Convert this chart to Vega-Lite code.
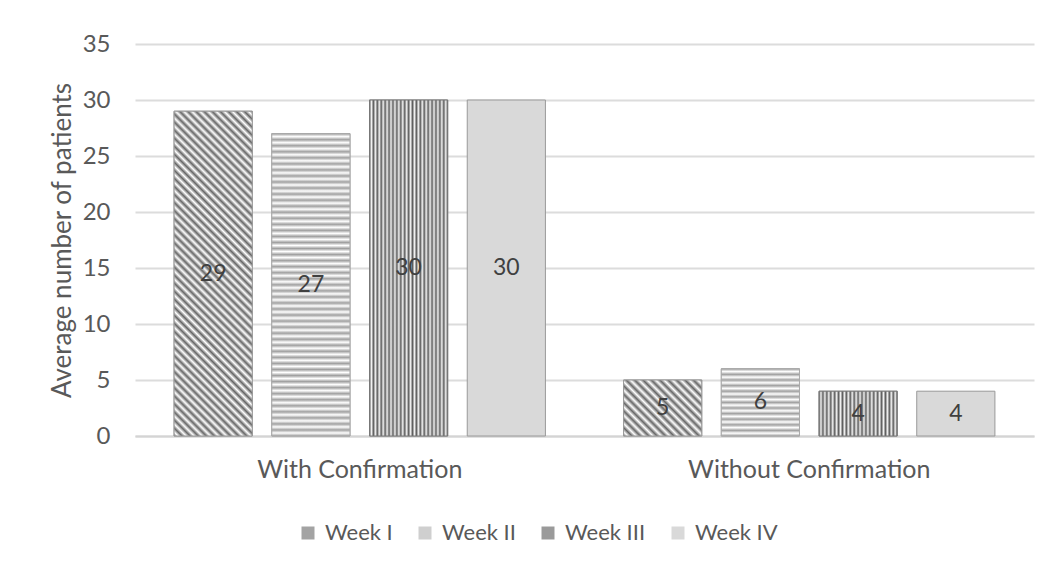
{
  "$schema": "https://vega.github.io/schema/vega-lite/v6.json",
  "width": 899,
  "height": 392,
  "autosize": {"type": "none"},
  "padding": {"left": 135, "top": 44, "right": 22, "bottom": 132},
  "background": "white",
  "config": {"view": {"stroke": null}, "font": "Lato"},
  "data": {
    "values": [
      {"Group": "With Confirmation", "Week": "Week I", "Value": 29},
      {"Group": "With Confirmation", "Week": "Week II", "Value": 27},
      {"Group": "With Confirmation", "Week": "Week III", "Value": 30},
      {"Group": "With Confirmation", "Week": "Week IV", "Value": 30},
      {"Group": "Without Confirmation", "Week": "Week I", "Value": 5},
      {"Group": "Without Confirmation", "Week": "Week II", "Value": 6},
      {"Group": "Without Confirmation", "Week": "Week III", "Value": 4},
      {"Group": "Without Confirmation", "Week": "Week IV", "Value": 4}
    ]
  },
  "encoding": {
    "x": {
      "field": "Group", "type": "nominal",
      "sort": ["With Confirmation", "Without Confirmation"],
      "scale": {"domain": ["With Confirmation", "Without Confirmation"], "paddingInner": 0, "paddingOuter": 0},
      "axis": {"title": null, "labelAngle": 0, "labelFontSize": 25, "labelLimit": 0, "labelColor": "#595959", "labelPadding": 21, "ticks": false, "domainColor": "#d4d4d4", "domainWidth": 2}
    },
    "xOffset": {
      "field": "Week", "type": "nominal",
      "sort": ["Week I", "Week II", "Week III", "Week IV"],
      "scale": {"domain": ["Week I", "Week II", "Week III", "Week IV"], "paddingInner": 0.2, "paddingOuter": 0.4}
    }
  },
  "layer": [
    {
      "mark": {"type": "bar", "stroke": "#999999", "strokeWidth": 1},
      "encoding": {
        "y": {
          "field": "Value", "type": "quantitative",
          "scale": {"domain": [0, 35]},
          "axis": {"title": "Average number of patients", "values": [0, 5, 10, 15, 20, 25, 30, 35], "grid": true, "gridColor": "#dcdcdc", "gridWidth": 2, "domain": false, "ticks": false, "tickSize": 0, "labelPadding": 25, "labelFontSize": 24, "labelColor": "#595959", "titleFontSize": 26, "titleColor": "#595959", "titleFontWeight": "normal", "titlePadding": 7}
        },
        "fill": {
          "field": "Week", "type": "nominal",
          "scale": {"domain": ["Week I", "Week II", "Week III", "Week IV"], "range": ["#a3a3a3", "#cfcfcf", "#9a9a9a", "#d9d9d9"]},
          "legend": {"orient": "none", "direction": "horizontal", "legendX": 162, "legendY": 478, "title": null, "symbolType": "square", "symbolSize": 169, "symbolStrokeWidth": 0, "labelFontSize": 22, "labelColor": "#595959", "labelOffset": 6, "columnPadding": 21}
        }
      }
    },
    {
      "transform": [{"filter": "datum.Group === 'With Confirmation' && datum.Week === 'Week I'"}],
      "mark": {"type": "bar", "stroke": "#999999", "strokeWidth": 1, "fill": {"gradient": "linear", "x1": 0, "y1": 1, "x2": 0.2816, "y2": -0.1726, "stops": [
                {"offset":0,"color":"#666666"},{"offset":0.01,"color":"#ffffff"},{"offset":0.02,"color":"#666666"},{"offset":0.03,"color":"#ffffff"},{"offset":0.04,"color":"#666666"},{"offset":0.05,"color":"#ffffff"},{"offset":0.06,"color":"#666666"},{"offset":0.07,"color":"#ffffff"},{"offset":0.08,"color":"#666666"},{"offset":0.09,"color":"#ffffff"},
                {"offset":0.1,"color":"#666666"},{"offset":0.11,"color":"#ffffff"},{"offset":0.12,"color":"#666666"},{"offset":0.13,"color":"#ffffff"},{"offset":0.14,"color":"#666666"},{"offset":0.15,"color":"#ffffff"},{"offset":0.16,"color":"#666666"},{"offset":0.17,"color":"#ffffff"},{"offset":0.18,"color":"#666666"},{"offset":0.19,"color":"#ffffff"},
                {"offset":0.2,"color":"#666666"},{"offset":0.21,"color":"#ffffff"},{"offset":0.22,"color":"#666666"},{"offset":0.23,"color":"#ffffff"},{"offset":0.24,"color":"#666666"},{"offset":0.25,"color":"#ffffff"},{"offset":0.26,"color":"#666666"},{"offset":0.27,"color":"#ffffff"},{"offset":0.28,"color":"#666666"},{"offset":0.29,"color":"#ffffff"},
                {"offset":0.3,"color":"#666666"},{"offset":0.31,"color":"#ffffff"},{"offset":0.32,"color":"#666666"},{"offset":0.33,"color":"#ffffff"},{"offset":0.34,"color":"#666666"},{"offset":0.35,"color":"#ffffff"},{"offset":0.36,"color":"#666666"},{"offset":0.37,"color":"#ffffff"},{"offset":0.38,"color":"#666666"},{"offset":0.39,"color":"#ffffff"},
                {"offset":0.4,"color":"#666666"},{"offset":0.41,"color":"#ffffff"},{"offset":0.42,"color":"#666666"},{"offset":0.43,"color":"#ffffff"},{"offset":0.44,"color":"#666666"},{"offset":0.45,"color":"#ffffff"},{"offset":0.46,"color":"#666666"},{"offset":0.47,"color":"#ffffff"},{"offset":0.48,"color":"#666666"},{"offset":0.49,"color":"#ffffff"},
                {"offset":0.5,"color":"#666666"},{"offset":0.51,"color":"#ffffff"},{"offset":0.52,"color":"#666666"},{"offset":0.53,"color":"#ffffff"},{"offset":0.54,"color":"#666666"},{"offset":0.55,"color":"#ffffff"},{"offset":0.56,"color":"#666666"},{"offset":0.57,"color":"#ffffff"},{"offset":0.58,"color":"#666666"},{"offset":0.59,"color":"#ffffff"},
                {"offset":0.6,"color":"#666666"},{"offset":0.61,"color":"#ffffff"},{"offset":0.62,"color":"#666666"},{"offset":0.63,"color":"#ffffff"},{"offset":0.64,"color":"#666666"},{"offset":0.65,"color":"#ffffff"},{"offset":0.66,"color":"#666666"},{"offset":0.67,"color":"#ffffff"},{"offset":0.68,"color":"#666666"},{"offset":0.69,"color":"#ffffff"},
                {"offset":0.7,"color":"#666666"},{"offset":0.71,"color":"#ffffff"},{"offset":0.72,"color":"#666666"},{"offset":0.73,"color":"#ffffff"},{"offset":0.74,"color":"#666666"},{"offset":0.75,"color":"#ffffff"},{"offset":0.76,"color":"#666666"},{"offset":0.77,"color":"#ffffff"},{"offset":0.78,"color":"#666666"},{"offset":0.79,"color":"#ffffff"},
                {"offset":0.8,"color":"#666666"},{"offset":0.81,"color":"#ffffff"},{"offset":0.82,"color":"#666666"},{"offset":0.83,"color":"#ffffff"},{"offset":0.84,"color":"#666666"},{"offset":0.85,"color":"#ffffff"},{"offset":0.86,"color":"#666666"},{"offset":0.87,"color":"#ffffff"},{"offset":0.88,"color":"#666666"},{"offset":0.89,"color":"#ffffff"},
                {"offset":0.9,"color":"#666666"},{"offset":0.91,"color":"#ffffff"},{"offset":0.92,"color":"#666666"},{"offset":0.93,"color":"#ffffff"},{"offset":0.94,"color":"#666666"},{"offset":0.95,"color":"#ffffff"},{"offset":0.96,"color":"#666666"},{"offset":0.97,"color":"#ffffff"},{"offset":0.98,"color":"#666666"},{"offset":0.99,"color":"#ffffff"},{"offset":1,"color":"#666666"}
      ]}},
      "encoding": {"y": {"field": "Value", "type": "quantitative", "scale": {"domain": [0, 35]}, "axis": null}}
    },
    {
      "transform": [{"filter": "datum.Group === 'With Confirmation' && datum.Week === 'Week II'"}],
      "mark": {"type": "bar", "stroke": "#aaaaaa", "strokeWidth": 1, "fill": {"gradient": "linear", "x1": 0, "y1": 0, "x2": 0, "y2": 1, "stops": [
                {"offset":0,"color":"#a0a0a0"},{"offset":0.01,"color":"#ffffff"},{"offset":0.02,"color":"#a0a0a0"},{"offset":0.03,"color":"#ffffff"},{"offset":0.04,"color":"#a0a0a0"},{"offset":0.05,"color":"#ffffff"},{"offset":0.06,"color":"#a0a0a0"},{"offset":0.07,"color":"#ffffff"},{"offset":0.08,"color":"#a0a0a0"},{"offset":0.09,"color":"#ffffff"},
                {"offset":0.1,"color":"#a0a0a0"},{"offset":0.11,"color":"#ffffff"},{"offset":0.12,"color":"#a0a0a0"},{"offset":0.13,"color":"#ffffff"},{"offset":0.14,"color":"#a0a0a0"},{"offset":0.15,"color":"#ffffff"},{"offset":0.16,"color":"#a0a0a0"},{"offset":0.17,"color":"#ffffff"},{"offset":0.18,"color":"#a0a0a0"},{"offset":0.19,"color":"#ffffff"},
                {"offset":0.2,"color":"#a0a0a0"},{"offset":0.21,"color":"#ffffff"},{"offset":0.22,"color":"#a0a0a0"},{"offset":0.23,"color":"#ffffff"},{"offset":0.24,"color":"#a0a0a0"},{"offset":0.25,"color":"#ffffff"},{"offset":0.26,"color":"#a0a0a0"},{"offset":0.27,"color":"#ffffff"},{"offset":0.28,"color":"#a0a0a0"},{"offset":0.29,"color":"#ffffff"},
                {"offset":0.3,"color":"#a0a0a0"},{"offset":0.31,"color":"#ffffff"},{"offset":0.32,"color":"#a0a0a0"},{"offset":0.33,"color":"#ffffff"},{"offset":0.34,"color":"#a0a0a0"},{"offset":0.35,"color":"#ffffff"},{"offset":0.36,"color":"#a0a0a0"},{"offset":0.37,"color":"#ffffff"},{"offset":0.38,"color":"#a0a0a0"},{"offset":0.39,"color":"#ffffff"},
                {"offset":0.4,"color":"#a0a0a0"},{"offset":0.41,"color":"#ffffff"},{"offset":0.42,"color":"#a0a0a0"},{"offset":0.43,"color":"#ffffff"},{"offset":0.44,"color":"#a0a0a0"},{"offset":0.45,"color":"#ffffff"},{"offset":0.46,"color":"#a0a0a0"},{"offset":0.47,"color":"#ffffff"},{"offset":0.48,"color":"#a0a0a0"},{"offset":0.49,"color":"#ffffff"},
                {"offset":0.5,"color":"#a0a0a0"},{"offset":0.51,"color":"#ffffff"},{"offset":0.52,"color":"#a0a0a0"},{"offset":0.53,"color":"#ffffff"},{"offset":0.54,"color":"#a0a0a0"},{"offset":0.55,"color":"#ffffff"},{"offset":0.56,"color":"#a0a0a0"},{"offset":0.57,"color":"#ffffff"},{"offset":0.58,"color":"#a0a0a0"},{"offset":0.59,"color":"#ffffff"},
                {"offset":0.6,"color":"#a0a0a0"},{"offset":0.61,"color":"#ffffff"},{"offset":0.62,"color":"#a0a0a0"},{"offset":0.63,"color":"#ffffff"},{"offset":0.64,"color":"#a0a0a0"},{"offset":0.65,"color":"#ffffff"},{"offset":0.66,"color":"#a0a0a0"},{"offset":0.67,"color":"#ffffff"},{"offset":0.68,"color":"#a0a0a0"},{"offset":0.69,"color":"#ffffff"},
                {"offset":0.7,"color":"#a0a0a0"},{"offset":0.71,"color":"#ffffff"},{"offset":0.72,"color":"#a0a0a0"},{"offset":0.73,"color":"#ffffff"},{"offset":0.74,"color":"#a0a0a0"},{"offset":0.75,"color":"#ffffff"},{"offset":0.76,"color":"#a0a0a0"},{"offset":0.77,"color":"#ffffff"},{"offset":0.78,"color":"#a0a0a0"},{"offset":0.79,"color":"#ffffff"},
                {"offset":0.8,"color":"#a0a0a0"},{"offset":0.81,"color":"#ffffff"},{"offset":0.82,"color":"#a0a0a0"},{"offset":0.83,"color":"#ffffff"},{"offset":0.84,"color":"#a0a0a0"},{"offset":0.85,"color":"#ffffff"},{"offset":0.86,"color":"#a0a0a0"},{"offset":0.87,"color":"#ffffff"},{"offset":0.88,"color":"#a0a0a0"},{"offset":0.89,"color":"#ffffff"},
                {"offset":0.9,"color":"#a0a0a0"},{"offset":0.91,"color":"#ffffff"},{"offset":0.92,"color":"#a0a0a0"},{"offset":0.93,"color":"#ffffff"},{"offset":0.94,"color":"#a0a0a0"},{"offset":0.95,"color":"#ffffff"},{"offset":0.96,"color":"#a0a0a0"},{"offset":0.97,"color":"#ffffff"},{"offset":0.98,"color":"#a0a0a0"},{"offset":0.99,"color":"#ffffff"},{"offset":1,"color":"#a0a0a0"}
      ]}},
      "encoding": {"y": {"field": "Value", "type": "quantitative", "scale": {"domain": [0, 35]}, "axis": null}}
    },
    {
      "transform": [{"filter": "datum.Week === 'Week III'"}],
      "mark": {"type": "bar", "stroke": "#777777", "strokeWidth": 1, "fill": {"gradient": "linear", "x1": 0, "y1": 0, "x2": 1, "y2": 0, "stops": [
                {"offset":0,"color":"#5e5e5e"},{"offset":0.025,"color":"#f2f2f2"},{"offset":0.05,"color":"#5e5e5e"},{"offset":0.075,"color":"#f2f2f2"},{"offset":0.1,"color":"#5e5e5e"},{"offset":0.125,"color":"#f2f2f2"},{"offset":0.15,"color":"#5e5e5e"},{"offset":0.175,"color":"#f2f2f2"},{"offset":0.2,"color":"#5e5e5e"},{"offset":0.225,"color":"#f2f2f2"},
                {"offset":0.25,"color":"#5e5e5e"},{"offset":0.275,"color":"#f2f2f2"},{"offset":0.3,"color":"#5e5e5e"},{"offset":0.325,"color":"#f2f2f2"},{"offset":0.35,"color":"#5e5e5e"},{"offset":0.375,"color":"#f2f2f2"},{"offset":0.4,"color":"#5e5e5e"},{"offset":0.425,"color":"#f2f2f2"},{"offset":0.45,"color":"#5e5e5e"},{"offset":0.475,"color":"#f2f2f2"},
                {"offset":0.5,"color":"#5e5e5e"},{"offset":0.525,"color":"#f2f2f2"},{"offset":0.55,"color":"#5e5e5e"},{"offset":0.575,"color":"#f2f2f2"},{"offset":0.6,"color":"#5e5e5e"},{"offset":0.625,"color":"#f2f2f2"},{"offset":0.65,"color":"#5e5e5e"},{"offset":0.675,"color":"#f2f2f2"},{"offset":0.7,"color":"#5e5e5e"},{"offset":0.725,"color":"#f2f2f2"},
                {"offset":0.75,"color":"#5e5e5e"},{"offset":0.775,"color":"#f2f2f2"},{"offset":0.8,"color":"#5e5e5e"},{"offset":0.825,"color":"#f2f2f2"},{"offset":0.85,"color":"#5e5e5e"},{"offset":0.875,"color":"#f2f2f2"},{"offset":0.9,"color":"#5e5e5e"},{"offset":0.925,"color":"#f2f2f2"},{"offset":0.95,"color":"#5e5e5e"},{"offset":0.975,"color":"#f2f2f2"},{"offset":1,"color":"#5e5e5e"}
      ]}},
      "encoding": {"y": {"field": "Value", "type": "quantitative", "scale": {"domain": [0, 35]}, "axis": null}}
    },
    {
      "transform": [{"filter": "datum.Group === 'Without Confirmation' && datum.Week === 'Week I'"}],
      "mark": {"type": "bar", "stroke": "#999999", "strokeWidth": 1, "fill": {"gradient": "linear", "x1": 0, "y1": 1, "x2": 1.1336, "y2": 0.1862, "stops": [
                {"offset":0,"color":"#666666"},{"offset":0.03125,"color":"#ffffff"},{"offset":0.0625,"color":"#666666"},{"offset":0.09375,"color":"#ffffff"},{"offset":0.125,"color":"#666666"},{"offset":0.15625,"color":"#ffffff"},{"offset":0.1875,"color":"#666666"},{"offset":0.21875,"color":"#ffffff"},
                {"offset":0.25,"color":"#666666"},{"offset":0.28125,"color":"#ffffff"},{"offset":0.3125,"color":"#666666"},{"offset":0.34375,"color":"#ffffff"},{"offset":0.375,"color":"#666666"},{"offset":0.40625,"color":"#ffffff"},{"offset":0.4375,"color":"#666666"},{"offset":0.46875,"color":"#ffffff"},
                {"offset":0.5,"color":"#666666"},{"offset":0.53125,"color":"#ffffff"},{"offset":0.5625,"color":"#666666"},{"offset":0.59375,"color":"#ffffff"},{"offset":0.625,"color":"#666666"},{"offset":0.65625,"color":"#ffffff"},{"offset":0.6875,"color":"#666666"},{"offset":0.71875,"color":"#ffffff"},
                {"offset":0.75,"color":"#666666"},{"offset":0.78125,"color":"#ffffff"},{"offset":0.8125,"color":"#666666"},{"offset":0.84375,"color":"#ffffff"},{"offset":0.875,"color":"#666666"},{"offset":0.90625,"color":"#ffffff"},{"offset":0.9375,"color":"#666666"},{"offset":0.96875,"color":"#ffffff"},{"offset":1,"color":"#666666"}
      ]}},
      "encoding": {"y": {"field": "Value", "type": "quantitative", "scale": {"domain": [0, 35]}, "axis": null}}
    },
    {
      "transform": [{"filter": "datum.Group === 'Without Confirmation' && datum.Week === 'Week II'"}],
      "mark": {"type": "bar", "stroke": "#aaaaaa", "strokeWidth": 1, "fill": {"gradient": "linear", "x1": 0, "y1": 0, "x2": 0, "y2": 1, "stops": [
                {"offset":0,"color":"#a0a0a0"},{"offset":0.0417,"color":"#ffffff"},{"offset":0.0833,"color":"#a0a0a0"},{"offset":0.125,"color":"#ffffff"},{"offset":0.1667,"color":"#a0a0a0"},{"offset":0.2083,"color":"#ffffff"},{"offset":0.25,"color":"#a0a0a0"},{"offset":0.2917,"color":"#ffffff"},
                {"offset":0.3333,"color":"#a0a0a0"},{"offset":0.375,"color":"#ffffff"},{"offset":0.4167,"color":"#a0a0a0"},{"offset":0.4583,"color":"#ffffff"},{"offset":0.5,"color":"#a0a0a0"},{"offset":0.5417,"color":"#ffffff"},{"offset":0.5833,"color":"#a0a0a0"},{"offset":0.625,"color":"#ffffff"},
                {"offset":0.6667,"color":"#a0a0a0"},{"offset":0.7083,"color":"#ffffff"},{"offset":0.75,"color":"#a0a0a0"},{"offset":0.7917,"color":"#ffffff"},{"offset":0.8333,"color":"#a0a0a0"},{"offset":0.875,"color":"#ffffff"},{"offset":0.9167,"color":"#a0a0a0"},{"offset":0.9583,"color":"#ffffff"},{"offset":1,"color":"#a0a0a0"}
      ]}},
      "encoding": {"y": {"field": "Value", "type": "quantitative", "scale": {"domain": [0, 35]}, "axis": null}}
    },
    {
      "mark": {"type": "text", "fontSize": 23, "color": "#404040", "baseline": "middle", "align": "center"},
      "encoding": {
        "y": {"field": "Value", "type": "quantitative", "scale": {"domain": [0, 70]}, "axis": null},
        "text": {"field": "Value", "type": "quantitative"}
      }
    }
  ],
  "resolve": {"scale": {"y": "independent"}}
}
